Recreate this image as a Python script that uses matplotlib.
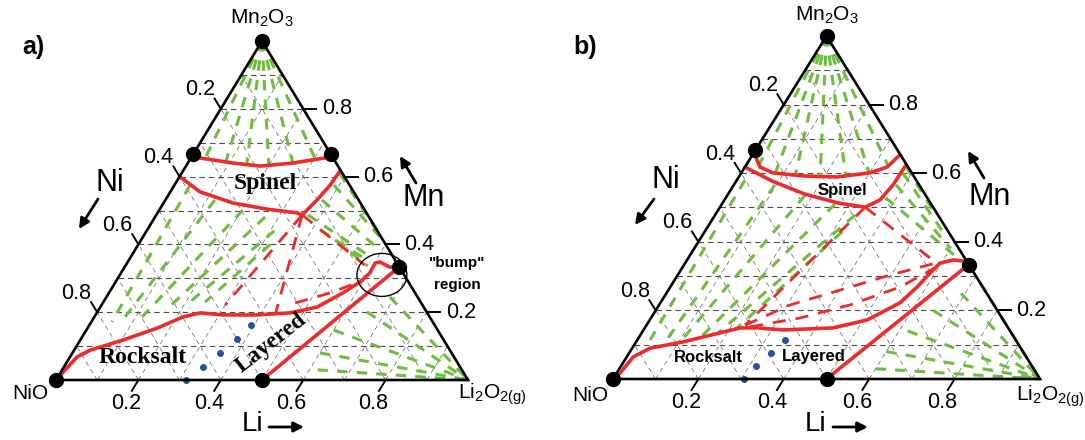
import numpy as np
import matplotlib.pyplot as plt
from matplotlib.patches import Ellipse, FancyArrowPatch

plt.rcParams['font.family'] = ['Liberation Sans', 'DejaVu Sans']
plt.rcParams['mathtext.fontset'] = 'custom'
plt.rcParams['mathtext.rm'] = 'Liberation Sans'
plt.rcParams['mathtext.default'] = 'regular'

GREEN = '#6cbf3d'
RED = '#ee2a2a'
BLUE = '#2352a5'

# all compositions are (Li, Mn) mole fractions, Ni = 1 - Li - Mn
ticks = [0.2, 0.4, 0.6, 0.8]
tick_labels = ['0.2', '0.4', '0.6', '0.8']
grid_steps = [0.1, 0.2, 0.3, 0.4, 0.5, 0.6, 0.7, 0.8, 0.9]

# ---------------- panel a ----------------
a_dots = [(0, 0), (0, 1), (0, 2/3), (1/3, 2/3), (0.5, 0), (2/3, 1/3)]
a_spinel_top = [(0.022, 0.655), (0.110, 0.640), (0.180, 0.631), (0.255, 0.640), (0.325, 0.655)]
a_spinel_low = [(0.0, 0.600), (0.072, 0.555), (0.169, 0.522), (0.260, 0.504), (0.338, 0.493),
                (0.354, 0.487), (0.368, 0.531), (0.378, 0.575), (0.381, 0.617)]
a_rocksalt = [(0, 0), (0.017, 0.068), (0.039, 0.088), (0.104, 0.118), (0.169, 0.153), (0.215, 0.186),
              (0.251, 0.198), (0.309, 0.192), (0.392, 0.192), (0.469, 0.198), (0.526, 0.215),
              (0.568, 0.257), (0.593, 0.289), (0.604, 0.316), (0.602, 0.345), (0.612, 0.348),
              (0.644, 0.333), (0.667, 0.333)]
a_layered = [(0.5, 0), (0.662, 0.325)]
a_dashed = [
    [(0.354, 0.487), (0.300, 0.221)],
    [(0.354, 0.487), (0.436, 0.192)],
    [(0.354, 0.487), (0.580, 0.339)],
    [(0.467, 0.227), (0.537, 0.257), (0.600, 0.295)],
]
a_top_fan = [(0.035, 0.652), (0.09, 0.645), (0.145, 0.636), (0.20, 0.633), (0.255, 0.640), (0.305, 0.650)]
a_mid_ties = [((0.038, 0.575), (0.050, 0.171)), ((0.120, 0.531), (0.073, 0.174)),
              ((0.203, 0.501), (0.116, 0.186)), ((0.267, 0.481), (0.163, 0.204)),
              ((0.310, 0.440), (0.204, 0.218)), ((0.320, 0.400), (0.247, 0.230))]
a_right_ties = [((0.383, 0.610), (0.570, 0.430)), ((0.387, 0.575), (0.590, 0.410)),
                ((0.380, 0.531), (0.595, 0.383)), ((0.368, 0.487), (0.587, 0.360)),
                ((0.420, 0.442), (0.588, 0.348)), ((0.471, 0.413), (0.589, 0.336))]
a_corner_fan = [(0.62, 0.03), (0.601, 0.080), (0.601, 0.147), (0.654, 0.201), (0.688, 0.245)]
a_blue = [(0.316, 0.0), (0.338, 0.038), (0.358, 0.080), (0.379, 0.121), (0.392, 0.162)]

# ---------------- panel b ----------------
b_dots = [(0, 0), (0, 1), (0, 2/3), (0.5, 0), (2/3, 1/3)]
b_spinel_top = [(0.006, 0.653), (0.035, 0.618), (0.074, 0.601), (0.149, 0.592), (0.230, 0.589),
                (0.301, 0.601), (0.333, 0.618), (0.345, 0.653)]
b_spinel_low = [(0.0, 0.618), (0.084, 0.577), (0.180, 0.539), (0.271, 0.513), (0.340, 0.501),
                (0.364, 0.522), (0.373, 0.566), (0.374, 0.624)]
b_rocksalt = [(0, 0), (0.008, 0.017), (0.015, 0.064), (0.042, 0.090), (0.110, 0.108), (0.223, 0.149),
              (0.263, 0.149), (0.327, 0.143), (0.441, 0.149), (0.509, 0.172), (0.561, 0.222),
              (0.578, 0.268), (0.588, 0.309), (0.597, 0.338), (0.623, 0.347), (0.648, 0.344),
              (0.667, 0.333)]
b_layered = [(0.5, 0), (0.662, 0.325)]
b_dashed = [
    [(0.340, 0.501), (0.231, 0.157)],
    [(0.340, 0.501), (0.584, 0.341)],
    [(0.231, 0.157), (0.307, 0.216), (0.402, 0.259), (0.497, 0.303), (0.595, 0.341)],
    [(0.245, 0.152), (0.349, 0.178), (0.447, 0.216), (0.538, 0.268), (0.592, 0.324)],
]
b_top_fan = [(0.03, 0.624), (0.08, 0.600), (0.13, 0.594), (0.19, 0.590), (0.25, 0.591), (0.30, 0.600), (0.335, 0.620)]
b_mid_ties = [((0.019, 0.580), (0.030, 0.114)), ((0.096, 0.566), (0.068, 0.099)),
              ((0.182, 0.536), (0.103, 0.108)), ((0.265, 0.510), (0.144, 0.120)),
              ((0.328, 0.478), (0.179, 0.134)), ((0.322, 0.429), (0.214, 0.143))]
b_right_ties = [((0.376, 0.620), (0.520, 0.475)), ((0.379, 0.600), (0.553, 0.434)),
                ((0.380, 0.566), (0.598, 0.382)), ((0.375, 0.528), (0.620, 0.360))]
b_corner_fan = [(0.60, 0.03), (0.60, 0.08), (0.62, 0.14), (0.65, 0.20), (0.69, 0.25), (0.72, 0.28)]
b_blue = [(0.307, 0.0), (0.316, 0.038), (0.332, 0.076), (0.346, 0.114)]

W, H = 1085, 440
fig = plt.figure(figsize=(W / 100, H / 100), dpi=100)


def txy(pts):
    p = np.asarray(pts, dtype=float)
    return p[:, 0] + p[:, 1] / 2, p[:, 1]


def make_panel(left, width, tri):
    # tri = pixel x of NiO, pixel x of Li2O2, pixel y of base, pixel y of apex
    x0, x1, yb, yt = tri
    ax = fig.add_axes([left / W, 0, width / W, 1])
    sx, sy = x1 - x0, yb - yt
    ax.set_xlim((left - x0) / sx, (left + width - x0) / sx)
    ax.set_ylim((yb - H) / sy, yb / sy)
    ax.axis('off')
    return ax


def ftext(x, y, s, **kw):
    fig.text(x / W, 1 - y / H, s, ha='center', va='center', **kw)


def farrow(x0, y0, x1, y1):
    fig.add_artist(FancyArrowPatch((x0 / W, 1 - y0 / H), (x1 / W, 1 - y1 / H),
                                   transform=fig.transFigure, arrowstyle='-|>',
                                   mutation_scale=15, lw=2.0, color='black',
                                   shrinkA=0, shrinkB=0))


def green(ax, pts):
    x, y = txy(pts)
    ax.plot(x, y, color=GREEN, lw=2.2, dashes=(3.4, 3.0), solid_capstyle='butt', zorder=2)


def frame(ax):
    for c in grid_steps:
        x, y = txy([(0, c), (1 - c, c)])
        ax.plot(x, y, color='#4d4d4d', lw=0.8, dashes=(5, 3.5), zorder=1)
        x, y = txy([(c, 0), (c, 1 - c)])
        ax.plot(x, y, color='#6a6a6a', lw=0.55, dashes=(6, 5), zorder=1)
        x, y = txy([(1 - c, 0), (0, 1 - c)])
        ax.plot(x, y, color='#6a6a6a', lw=0.55, dashes=(6, 5), zorder=1)
    x, y = txy([(0, 0), (1, 0), (0, 1), (0, 0)])
    ax.plot(x, y, color='black', lw=1.9, zorder=4, solid_joinstyle='miter')
    for t, lab in zip(ticks, tick_labels):
        # Li along the base
        x, y = txy([(t, 0), (t, -0.032)])
        ax.plot(x, y, color='black', lw=1.4, zorder=4)
        ax.annotate(lab, (x[0], y[0]), xytext=(-12, -23), textcoords='offset pixels',
                    ha='center', va='center', fontsize=15.5)
        # Ni along the left edge
        x, y = txy([(0, 1 - t), (-0.03, 1 - t + 0.03)])
        ax.plot(x, y, color='black', lw=1.4, zorder=4)
        ax.annotate(lab, (x[0], y[0]), xytext=(-21, 19), textcoords='offset pixels',
                    ha='center', va='center', fontsize=15.5)
        # Mn along the right edge
        x, y = txy([(1 - t, t), (1 - t + 0.032, t)])
        ax.plot(x, y, color='black', lw=1.4, zorder=4)
        ax.annotate(lab, (x[0], y[0]), xytext=(19, 0), textcoords='offset pixels',
                    ha='left', va='center', fontsize=15.5)


def draw(ax, dots, top, low, rock, lay, dashed, topfan, mid, right, corner, blue):
    frame(ax)
    for e in topfan:
        green(ax, [(0, 1), e])
    for s, e in mid + right:
        green(ax, [s, e])
    for s in corner:
        green(ax, [s, (1, 0)])
    for curve in (top, low, rock, lay):
        x, y = txy(curve)
        ax.plot(x, y, color=RED, lw=2.6, zorder=3, solid_capstyle='round', solid_joinstyle='round')
    for d in dashed:
        x, y = txy(d)
        ax.plot(x, y, color=RED, lw=2.0, dashes=(4.7, 3.6), zorder=3)
    x, y = txy(blue)
    ax.plot(x, y, 'o', color=BLUE, ms=4, zorder=3)
    x, y = txy(dots)
    ax.plot(x, y, 'o', color='black', ms=10, zorder=5, clip_on=False)


ax_a = make_panel(0, 542.5, (56, 468, 380, 41))
draw(ax_a, a_dots, a_spinel_top, a_spinel_low, a_rocksalt, a_layered, a_dashed,
     a_top_fan, a_mid_ties, a_right_ties, a_corner_fan, a_blue)
ax_a.add_patch(Ellipse((0.791, 0.310), 0.121, 0.127, fill=False, lw=1.0, color='black', zorder=4))

ax_b = make_panel(542.5, 542.5, (613, 1040, 379, 36))
draw(ax_b, b_dots, b_spinel_top, b_spinel_low, b_rocksalt, b_layered, b_dashed,
     b_top_fan, b_mid_ties, b_right_ties, b_corner_fan, b_blue)

# labels, panel a
ftext(33, 47, 'a)', fontsize=18, fontweight='bold')
ftext(262, 18, r'Mn$_2$O$_3$', fontsize=15)
ftext(30, 393, 'NiO', fontsize=15)
ftext(492, 394, r'Li$_2$O$_{2(g)}$', fontsize=15)
ftext(110, 183, 'Ni', fontsize=22)
ftext(424, 198, 'Mn', fontsize=22)
ftext(253, 424, 'Li', fontsize=20)
farrow(98, 199, 79, 229)
farrow(416, 183, 400, 156)
farrow(269, 427, 304, 427)
serif = ['Liberation Serif', 'DejaVu Serif']
ftext(265, 183, 'Spinel', fontsize=17, fontweight='bold', family=serif)
ftext(143, 357, 'Rocksalt', fontsize=17, fontweight='bold', family=serif)
ftext(271, 343, 'Layered', fontsize=17, fontweight='bold', family=serif, rotation=38)
ftext(457, 263, '"bump"', fontsize=11, fontweight='bold')
ftext(457, 285, 'region', fontsize=11, fontweight='bold')

# labels, panel b
ftext(585, 47, 'b)', fontsize=18, fontweight='bold')
ftext(827, 15, r'Mn$_2$O$_3$', fontsize=15)
ftext(590, 395, 'NiO', fontsize=15)
ftext(1050, 396, r'Li$_2$O$_{2(g)}$', fontsize=15)
ftext(666, 180, 'Ni', fontsize=22)
ftext(990, 197, 'Mn', fontsize=22)
ftext(816, 424, 'Li', fontsize=20)
farrow(833, 427, 868, 427)
farrow(654, 199, 635, 225)
farrow(984, 178, 968, 151)
ftext(842, 190, 'Spinel', fontsize=12, fontweight='bold')
ftext(708, 358, 'Rocksalt', fontsize=12, fontweight='bold')
ftext(814, 356, 'Layered', fontsize=12, fontweight='bold')

fig.savefig('out.png', dpi=100)
